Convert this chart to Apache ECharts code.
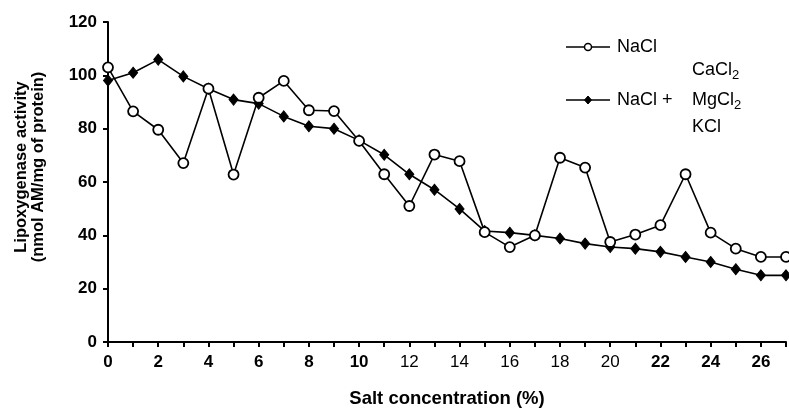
<!DOCTYPE html>
<html>
<head>
<meta charset="utf-8">
<script src="https://cdn.jsdelivr.net/npm/echarts@6/dist/echarts.min.js"></script>
<style>
  html, body { margin: 0; padding: 0; background: #fff; }
  #chart { width: 789px; height: 413px; }
</style>
</head>
<body>
<div id="chart"></div>
<script>
// ---- data ----
const saltConcentration = [0, 1, 2, 3, 4, 5, 6, 7, 8, 9, 10, 11, 12, 13, 14, 15, 16, 17, 18, 19, 20, 21, 22, 23, 24, 25, 26, 27];
const naclActivity = [103.0, 86.5, 79.6, 67.1, 95.0, 62.8, 91.6, 97.9, 86.9, 86.6, 75.4, 62.9, 51.0, 70.3, 67.8, 41.2, 35.6, 40.0, 69.1, 65.4, 37.5, 40.3, 43.8, 62.9, 41.0, 35.0, 31.9, 31.9];
const mixedSaltActivity = [98.1, 101.0, 105.9, 99.6, 95.0, 90.9, 89.4, 84.6, 80.9, 80.0, 75.6, 70.2, 62.9, 57.1, 49.9, 41.6, 41.0, 40.0, 38.8, 36.9, 35.6, 35.0, 33.8, 31.9, 30.0, 27.3, 25.0, 25.0];
const plainWeightXLabels = [12, 14, 16, 18, 20];
const seriesNames = ['NaCl', 'NaCl + CaCl2, MgCl2, KCl'];

const FONT = '"Liberation Sans", Arial, sans-serif';
const chart = echarts.init(document.getElementById('chart'), null, { renderer: 'canvas' });

const pairs = (ys) => saltConcentration.map((x, i) => [x, ys[i]]);

const legendX0 = 566, legendX1 = 610, legendSym = 588;
const row1 = 47, row2 = 100;
const LF = '18px ' + FONT;

chart.setOption({
  animation: false,
  backgroundColor: '#ffffff',
  grid: { left: 108, right: 0, top: 22, bottom: 71, containLabel: false },
  xAxis: {
    type: 'value',
    min: 0, max: 27, interval: 1,
    name: 'Salt concentration (%)',
    nameLocation: 'middle',
    nameGap: 47,
    nameTextStyle: { fontFamily: FONT, fontWeight: 'bold', fontSize: 18.5, color: '#000' },
    axisLine: { show: true, onZero: false, lineStyle: { color: '#000', width: 2 } },
    axisTick: { show: true, inside: false, length: 5, lineStyle: { color: '#000', width: 2 } },
    splitLine: { show: false },
    axisLabel: {
      margin: 12,
      color: '#000',
      fontFamily: FONT,
      fontSize: 17,
      formatter: (v) => {
        if (v % 2 !== 0 || v > 26) return '';
        return plainWeightXLabels.includes(v) ? '{n|' + v + '}' : '{b|' + v + '}';
      },
      rich: {
        b: { fontFamily: FONT, fontSize: 17, fontWeight: 'bold', color: '#000' },
        n: { fontFamily: FONT, fontSize: 17, fontWeight: 'normal', color: '#000' }
      }
    }
  },
  yAxis: {
    type: 'value',
    min: 0, max: 120, interval: 20,
    name: 'Lipoxygenase activity\n(nmol AM/mg of protein)',
    nameLocation: 'middle',
    nameRotate: 90,
    nameGap: 61,
    nameTextStyle: { fontFamily: FONT, fontWeight: 'bold', fontSize: 16.5, color: '#000', lineHeight: 17, padding: [0, 0, 0, 30] },
    axisLine: { show: true, lineStyle: { color: '#000', width: 2 } },
    axisTick: { show: true, inside: false, length: 5, lineStyle: { color: '#000', width: 2 } },
    splitLine: { show: false },
    axisLabel: { margin: 11, color: '#000', fontFamily: FONT, fontSize: 17, fontWeight: 'bold' }
  },
  series: [
    {
      name: seriesNames[1],
      type: 'line',
      data: pairs(mixedSaltActivity),
      symbol: 'diamond',
      symbolSize: [9, 11],
      lineStyle: { color: '#000', width: 1.6 },
      itemStyle: { color: '#000', borderColor: '#000', borderWidth: 1 },
      z: 2
    },
    {
      name: seriesNames[0],
      type: 'line',
      data: pairs(naclActivity),
      symbol: 'circle',
      symbolSize: 10,
      lineStyle: { color: '#000', width: 1.6 },
      itemStyle: { color: '#fff', borderColor: '#000', borderWidth: 1.8 },
      z: 3
    }
  ],
  graphic: [
    { type: 'line', shape: { x1: legendX0, y1: row1, x2: legendX1, y2: row1 }, style: { stroke: '#000', lineWidth: 1.6 } },
    { type: 'circle', shape: { cx: legendSym, cy: row1, r: 3.5 }, style: { fill: '#fff', stroke: '#000', lineWidth: 1.5 }, z: 10 },
    { type: 'text', x: 617, y: row1, style: { text: 'NaCl', font: LF, fill: '#000', verticalAlign: 'middle' } },

    { type: 'line', shape: { x1: legendX0, y1: row2, x2: legendX1, y2: row2 }, style: { stroke: '#000', lineWidth: 1.6 } },
    { type: 'polygon', shape: { points: [[legendSym, row2 - 4], [legendSym + 3.5, row2], [legendSym, row2 + 4], [legendSym - 3.5, row2]] }, style: { fill: '#000', stroke: '#000' }, z: 10 },
    { type: 'text', x: 617, y: row2, style: { text: 'NaCl +', font: LF, fill: '#000', verticalAlign: 'middle' } },

    { type: 'text', x: 692, y: 70, style: { text: '{m|CaCl}{s|2}', fill: '#000', verticalAlign: 'middle',
      rich: { m: { font: LF, fill: '#000' }, s: { font: '13px ' + FONT, fill: '#000', padding: [10, 0, 0, 0] } } } },
    { type: 'text', x: 692, y: 100, style: { text: '{m|MgCl}{s|2}', fill: '#000', verticalAlign: 'middle',
      rich: { m: { font: LF, fill: '#000' }, s: { font: '13px ' + FONT, fill: '#000', padding: [10, 0, 0, 0] } } } },
    { type: 'text', x: 692, y: 127, style: { text: 'KCl', font: LF, fill: '#000', verticalAlign: 'middle' } }
  ]
});
</script>
</body>
</html>
